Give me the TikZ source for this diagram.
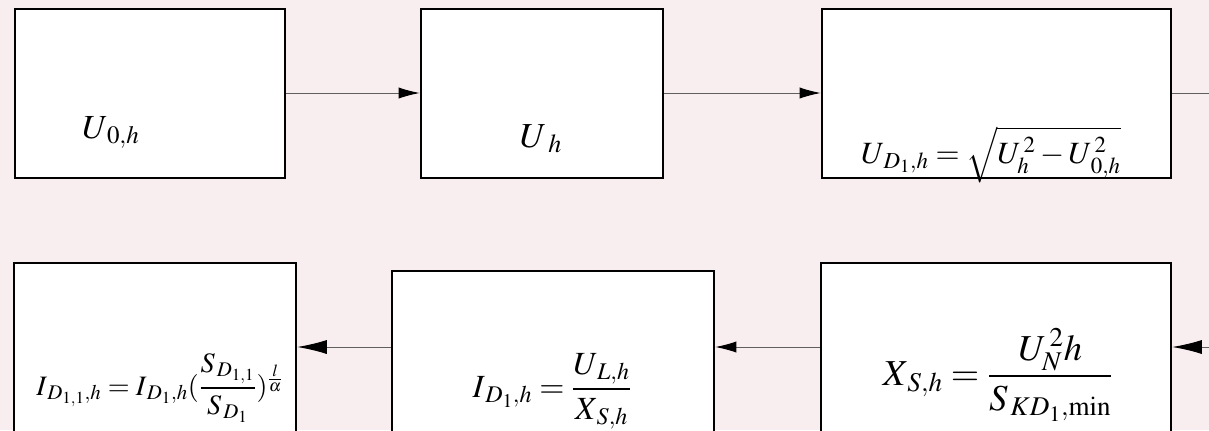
\documentclass[tikz,border=0pt]{standalone}
\usepackage{amsmath}
\usepackage{mathptmx}
\usetikzlibrary{arrows.meta,positioning,fit}
\definecolor{bgpink}{RGB}{248,238,240}
\definecolor{linegray}{RGB}{95,95,95}

\begin{document}
\begin{tikzpicture}[
  x=0.025cm, y=-0.025cm,
  box/.style={draw, line width=1.8pt, fill=white, inner sep=0pt},
  formula/.style={anchor=base, inner sep=0pt},
  arrow/.style={draw=linegray, line width=0.7pt, -{Latex[length=15pt,width=8pt,black]}},
  bigarrow/.style={draw=linegray, line width=0.7pt, -{Latex[length=21pt,width=10pt,black]}}
]
\path[use as bounding box, clip] (0,0) rectangle (1209,430);
\fill[bgpink] (0,0) rectangle (1209,430);

% top row
\node[box, fit={(15,9) (285,178)}] (b1) {};
\node[box, fit={(421,9) (663,178)}] (b2) {};
\node[box, fit={(822,9) (1171,178)}] (b3) {};
% bottom row (cut off by the lower edge)
\node[box, fit={(14,263) (296,445)}] (b4) {};
\node[box, fit={(392,271) (714,445)}] (b5) {};
\node[box, fit={(821,263) (1171,445)}] (b6) {};

\coordinate (outR) at (1209,93);
\coordinate (inR) at (1209,347);

\node[formula, font=\fontsize{24}{26}\selectfont] (f1) at (111,138) {$U_{\,0,h}$};
\node[formula, font=\fontsize{25}{28}\selectfont] (f2) at (541,147) {$U_{\;h}$};
\node[formula, font=\fontsize{22}{25}\selectfont] (f3) at (991,163) {$U_{\,D_1,h}=\sqrt{\vphantom{U_{0,h}^{2}}U_h^{\,2}-U_{\,0,h}^{\,2}}$};
\node[formula, font=\fontsize{20}{23}\selectfont] (f4) at (160,395) {$I_{\,D_{1,1},h}=I_{\,D_1,h}(\dfrac{S_{\,D_{1,1}}}{S_{\,D_1}})^{\frac{l}{\alpha}}$};
\node[formula, font=\fontsize{23}{26}\selectfont] (f5) at (552,397) {$I_{\,D_1,h}=\dfrac{U_{\,L,h}}{X_{\,S,h}}$};
\node[formula, font=\fontsize{26}{29}\selectfont] (f6) at (998,385) {$X_{\,S,h}=\dfrac{U_N^{\,2}h}{S_{\,KD_1,\min}}$};

\draw[arrow] (b1.east |- outR) -- (b2.west |- outR);
\draw[arrow] (b2.east |- outR) -- (b3.west |- outR);
\draw[draw=linegray, line width=0.7pt] (b3.east |- outR) -- (outR);

\draw[bigarrow] (inR) -- (b6.east |- inR);
\draw[arrow] (b6.west |- inR) -- (b5.east |- inR);
\draw[bigarrow] (b5.west |- inR) -- (b4.east |- inR);
\end{tikzpicture}
\end{document}
